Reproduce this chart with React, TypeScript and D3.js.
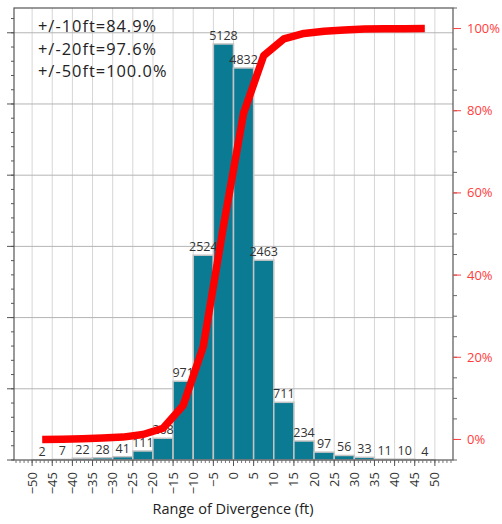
import React from "react";
import * as d3 from "d3";

// Bins of divergence (ft), lower edges, width 5
const binStarts = [-50, -45, -40, -35, -30, -25, -20, -15, -10, -5, 0, 5, 10, 15, 20, 25, 30, 35, 40, 45];
const binWidth = 5;
const counts = [2, 7, 22, 28, 41, 111, 268, 971, 2524, 5128, 4832, 2463, 711, 234, 97, 56, 33, 11, 10, 4];
// cumulative percentage at bin centers
const cumulativePct = [0.01, 0.05, 0.18, 0.34, 0.57, 1.2, 2.73, 8.26, 22.64, 51.85, 79.38, 93.41, 97.46, 98.8, 99.35, 99.67, 99.86, 99.92, 99.98, 100];
const summaryLines = ["+/-10ft=84.9%", "+/-20ft=97.6%", "+/-50ft=100.0%"];
const xTickValues = [-50, -45, -40, -35, -30, -25, -20, -15, -10, -5, 0, 5, 10, 15, 20, 25, 30, 35, 40, 45, 50];
const rightTickValues = [0, 20, 40, 60, 80, 100];
const xTitle = "Range of Divergence (ft)";

const W = 502, H = 524;
const L = 14, R = 453, T = 8, B = 460;
const FONT = "'Open Sans', 'Noto Sans', sans-serif";

export default function App() {
  const total = d3.sum(counts);
  const x = d3.scaleLinear().domain([-54.5, 54.5]).range([L, R]);
  const yPct = d3.scaleLinear().domain([0, 31.74]).range([B, T]); // left: % of total
  const yCount = (c: number) => yPct((c / total) * 100);
  const yR = d3.scaleLinear().domain([-5, 105]).range([B, T]);

  const leftMajor = d3.range(0, 31, 5);
  const leftMinor = d3.range(0, 32, 1);
  const xMinor = d3.range(-54, 55, 1);
  const rightMinor = d3.range(-5, 106, 5);
  const fmt = d3.format("d");

  const line = d3
    .line<number>()
    .x((_, i) => x(binStarts[i] + binWidth / 2))
    .y((d) => yR(d));

  return (
    <svg width={W} height={H} style={{ position: "absolute", left: 0, top: 0, background: "#fff" }} fontFamily={FONT}>
      {/* vertical gridlines */}
      {xTickValues.map((v) => (
        <line key={"vg" + v} x1={x(v)} x2={x(v)} y1={T} y2={B} stroke="#d6d6d6" strokeWidth={1} />
      ))}
      {/* horizontal gridlines (left axis) */}
      {leftMajor.slice(1).map((v) => (
        <line key={"hg" + v} x1={L} x2={R} y1={yPct(v)} y2={yPct(v)} stroke="#b4b4b4" strokeWidth={1} />
      ))}
      {/* bars */}
      {counts.map((c, i) => (
        <rect
          key={"b" + i}
          x={x(binStarts[i])}
          y={yCount(c)}
          width={x(binStarts[i] + binWidth) - x(binStarts[i])}
          height={B - yCount(c)}
          fill="#0b7a93"
          stroke="#c4c4c4"
          strokeWidth={1.5}
        />
      ))}
      {/* bar labels */}
      {counts.map((c, i) => (
        <text
          key={"bl" + i}
          x={x(binStarts[i] + binWidth / 2)}
          y={yCount(c) - 4}
          textAnchor="middle"
          fontSize={12.5}
          fill="#333"
        >
          {c}
        </text>
      ))}
      {/* cumulative line */}
      <path d={line(cumulativePct) || ""} fill="none" stroke="#ff0000" strokeWidth={7.5} strokeLinejoin="round" strokeLinecap="butt" />
      {/* frame */}
      <rect x={L} y={T} width={R - L} height={B - T} fill="none" stroke="#555" strokeWidth={1.2} />
      {/* left axis ticks */}
      {leftMinor.map((v) => (
        <line key={"lm" + v} x1={L - 3} x2={L} y1={yPct(v)} y2={yPct(v)} stroke="#555" strokeWidth={1} />
      ))}
      {leftMajor.map((v) => (
        <line key={"lM" + v} x1={L - 7} x2={L} y1={yPct(v)} y2={yPct(v)} stroke="#555" strokeWidth={1} />
      ))}
      {/* x axis ticks */}
      {xMinor.map((v) => (
        <line key={"xm" + v} x1={x(v)} x2={x(v)} y1={B} y2={B + 3} stroke="#777" strokeWidth={1} />
      ))}
      {xTickValues.map((v) => (
        <line key={"xM" + v} x1={x(v)} x2={x(v)} y1={B} y2={B + 6} stroke="#555" strokeWidth={1} />
      ))}
      {xTickValues.map((v) => (
        <text
          key={"xl" + v}
          transform={`translate(${x(v) + 4.5},${B + 12}) rotate(-90)`}
          textAnchor="end"
          fontSize={13}
          fill="#333"
        >
          {fmt(v)}
        </text>
      ))}
      <text x={233} y={514} textAnchor="middle" fontSize={14.5} fill="#222">
        {xTitle}
      </text>
      {/* right axis */}
      {rightMinor.map((v) => (
        <line key={"rm" + v} x1={R} x2={R + 4} y1={yR(v)} y2={yR(v)} stroke="#666" strokeWidth={1} />
      ))}
      {rightTickValues.map((v) => (
        <line key={"rM" + v} x1={R} x2={R + 8} y1={yR(v)} y2={yR(v)} stroke="#ff4040" strokeWidth={1} />
      ))}
      {rightTickValues.map((v) => (
        <text key={"rl" + v} x={R + 14} y={yR(v) + 4.5} fontSize={13} fill="#ff3c3c">
          {v + "%"}
        </text>
      ))}
      {/* summary text */}
      {summaryLines.map((s, i) => (
        <text key={"s" + i} x={38} y={32 + i * 22.5} fontSize={16.4} letterSpacing={1} fill="#222">
          {s}
        </text>
      ))}
    </svg>
  );
}
